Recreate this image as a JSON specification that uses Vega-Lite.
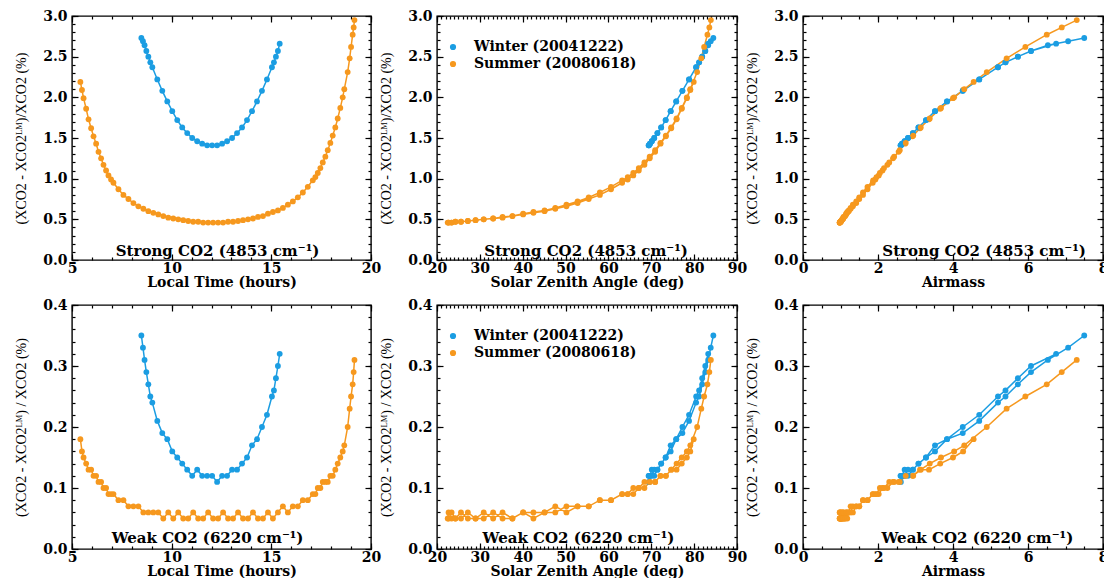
{
  "$schema": "https://vega.github.io/schema/vega-lite/v6.json",
  "background": "white",
  "padding": {"left": 13, "top": 8, "right": 0, "bottom": 0},
  "data": {"values": [
    {"season":"Winter","time":8.48,"sza":84.48,"airmass":7.5,"strong":2.73,"weak":0.35},
    {"season":"Winter","time":8.56,"sza":83.87,"airmass":7.07,"strong":2.69,"weak":0.33},
    {"season":"Winter","time":8.64,"sza":83.28,"airmass":6.53,"strong":2.64,"weak":0.31},
    {"season":"Winter","time":8.73,"sza":82.6,"airmass":6.08,"strong":2.57,"weak":0.29},
    {"season":"Winter","time":8.83,"sza":81.88,"airmass":5.73,"strong":2.5,"weak":0.27},
    {"season":"Winter","time":8.93,"sza":81.16,"airmass":5.4,"strong":2.43,"weak":0.25},
    {"season":"Winter","time":9.03,"sza":80.47,"airmass":5.2,"strong":2.37,"weak":0.24},
    {"season":"Winter","time":9.28,"sza":78.81,"airmass":4.7,"strong":2.22,"weak":0.21},
    {"season":"Winter","time":9.53,"sza":77.26,"airmass":4.26,"strong":2.08,"weak":0.19},
    {"season":"Winter","time":9.78,"sza":75.82,"airmass":3.84,"strong":1.95,"weak":0.18},
    {"season":"Winter","time":10.03,"sza":74.52,"airmass":3.52,"strong":1.83,"weak":0.16},
    {"season":"Winter","time":10.28,"sza":73.35,"airmass":3.28,"strong":1.72,"weak":0.15},
    {"season":"Winter","time":10.53,"sza":72.31,"airmass":3.08,"strong":1.63,"weak":0.14},
    {"season":"Winter","time":10.78,"sza":71.43,"airmass":2.93,"strong":1.56,"weak":0.13},
    {"season":"Winter","time":11.03,"sza":70.69,"airmass":2.8,"strong":1.5,"weak":0.12},
    {"season":"Winter","time":11.28,"sza":70.12,"airmass":2.71,"strong":1.46,"weak":0.13},
    {"season":"Winter","time":11.53,"sza":69.7,"airmass":2.64,"strong":1.43,"weak":0.12},
    {"season":"Winter","time":11.78,"sza":69.45,"airmass":2.61,"strong":1.41,"weak":0.12},
    {"season":"Winter","time":12.03,"sza":69.37,"airmass":2.6,"strong":1.41,"weak":0.12},
    {"season":"Winter","time":12.28,"sza":69.45,"airmass":2.61,"strong":1.41,"weak":0.11},
    {"season":"Winter","time":12.53,"sza":69.7,"airmass":2.64,"strong":1.43,"weak":0.12},
    {"season":"Winter","time":12.78,"sza":70.12,"airmass":2.71,"strong":1.46,"weak":0.12},
    {"season":"Winter","time":13.03,"sza":70.69,"airmass":2.8,"strong":1.5,"weak":0.13},
    {"season":"Winter","time":13.28,"sza":71.43,"airmass":2.93,"strong":1.56,"weak":0.13},
    {"season":"Winter","time":13.53,"sza":72.31,"airmass":3.08,"strong":1.63,"weak":0.14},
    {"season":"Winter","time":13.78,"sza":73.35,"airmass":3.28,"strong":1.72,"weak":0.15},
    {"season":"Winter","time":14.03,"sza":74.52,"airmass":3.52,"strong":1.83,"weak":0.17},
    {"season":"Winter","time":14.28,"sza":75.82,"airmass":3.84,"strong":1.95,"weak":0.18},
    {"season":"Winter","time":14.53,"sza":77.26,"airmass":4.26,"strong":2.08,"weak":0.2},
    {"season":"Winter","time":14.78,"sza":78.81,"airmass":4.7,"strong":2.22,"weak":0.22},
    {"season":"Winter","time":15.03,"sza":80.47,"airmass":5.2,"strong":2.37,"weak":0.25},
    {"season":"Winter","time":15.13,"sza":81.16,"airmass":5.4,"strong":2.43,"weak":0.26},
    {"season":"Winter","time":15.23,"sza":81.88,"airmass":5.73,"strong":2.5,"weak":0.28},
    {"season":"Winter","time":15.33,"sza":82.6,"airmass":6.08,"strong":2.57,"weak":0.3},
    {"season":"Winter","time":15.42,"sza":83.28,"airmass":6.75,"strong":2.66,"weak":0.32},
    {"season":"Summer","time":5.42,"sza":79.9,"airmass":4.55,"strong":2.19,"weak":0.18},
    {"season":"Summer","time":5.5,"sza":79.1,"airmass":4.27,"strong":2.09,"weak":0.16},
    {"season":"Summer","time":5.58,"sza":78.3,"airmass":4.0,"strong":1.99,"weak":0.15},
    {"season":"Summer","time":5.71,"sza":77.11,"airmass":3.66,"strong":1.86,"weak":0.14},
    {"season":"Summer","time":5.83,"sza":75.9,"airmass":3.36,"strong":1.73,"weak":0.13},
    {"season":"Summer","time":5.96,"sza":74.65,"airmass":3.12,"strong":1.62,"weak":0.13},
    {"season":"Summer","time":6.08,"sza":73.4,"airmass":2.92,"strong":1.52,"weak":0.12},
    {"season":"Summer","time":6.21,"sza":72.15,"airmass":2.72,"strong":1.43,"weak":0.12},
    {"season":"Summer","time":6.33,"sza":70.9,"airmass":2.55,"strong":1.33,"weak":0.11},
    {"season":"Summer","time":6.46,"sza":69.63,"airmass":2.4,"strong":1.25,"weak":0.11},
    {"season":"Summer","time":6.58,"sza":68.4,"airmass":2.25,"strong":1.17,"weak":0.1},
    {"season":"Summer","time":6.71,"sza":67.08,"airmass":2.12,"strong":1.1,"weak":0.1},
    {"season":"Summer","time":6.83,"sza":65.8,"airmass":2.02,"strong":1.04,"weak":0.09},
    {"season":"Summer","time":6.96,"sza":64.5,"airmass":1.93,"strong":0.99,"weak":0.09},
    {"season":"Summer","time":7.08,"sza":63.2,"airmass":1.86,"strong":0.95,"weak":0.09},
    {"season":"Summer","time":7.33,"sza":60.6,"airmass":1.72,"strong":0.87,"weak":0.08},
    {"season":"Summer","time":7.58,"sza":58.0,"airmass":1.6,"strong":0.8,"weak":0.08},
    {"season":"Summer","time":7.83,"sza":55.4,"airmass":1.5,"strong":0.75,"weak":0.07},
    {"season":"Summer","time":8.08,"sza":52.8,"airmass":1.42,"strong":0.7,"weak":0.07},
    {"season":"Summer","time":8.33,"sza":50.2,"airmass":1.33,"strong":0.66,"weak":0.07},
    {"season":"Summer","time":8.58,"sza":47.6,"airmass":1.27,"strong":0.63,"weak":0.06},
    {"season":"Summer","time":8.83,"sza":45.1,"airmass":1.22,"strong":0.6,"weak":0.06},
    {"season":"Summer","time":9.08,"sza":42.5,"airmass":1.18,"strong":0.58,"weak":0.06},
    {"season":"Summer","time":9.33,"sza":40.1,"airmass":1.15,"strong":0.56,"weak":0.06},
    {"season":"Summer","time":9.58,"sza":37.6,"airmass":1.12,"strong":0.54,"weak":0.05},
    {"season":"Summer","time":9.83,"sza":35.3,"airmass":1.08,"strong":0.52,"weak":0.06},
    {"season":"Summer","time":10.08,"sza":33.1,"airmass":1.07,"strong":0.51,"weak":0.05},
    {"season":"Summer","time":10.33,"sza":30.9,"airmass":1.05,"strong":0.5,"weak":0.06},
    {"season":"Summer","time":10.58,"sza":29.0,"airmass":1.03,"strong":0.49,"weak":0.05},
    {"season":"Summer","time":10.83,"sza":27.2,"airmass":1.02,"strong":0.48,"weak":0.05},
    {"season":"Summer","time":11.08,"sza":25.6,"airmass":1.0,"strong":0.47,"weak":0.06},
    {"season":"Summer","time":11.33,"sza":24.3,"airmass":1.0,"strong":0.47,"weak":0.05},
    {"season":"Summer","time":11.58,"sza":23.4,"airmass":0.98,"strong":0.46,"weak":0.05},
    {"season":"Summer","time":11.83,"sza":22.7,"airmass":0.98,"strong":0.46,"weak":0.06},
    {"season":"Summer","time":12.08,"sza":22.5,"airmass":0.98,"strong":0.46,"weak":0.05},
    {"season":"Summer","time":12.33,"sza":22.7,"airmass":0.98,"strong":0.46,"weak":0.05},
    {"season":"Summer","time":12.58,"sza":23.4,"airmass":0.98,"strong":0.46,"weak":0.06},
    {"season":"Summer","time":12.83,"sza":24.3,"airmass":1.0,"strong":0.47,"weak":0.05},
    {"season":"Summer","time":13.08,"sza":25.6,"airmass":1.0,"strong":0.47,"weak":0.05},
    {"season":"Summer","time":13.33,"sza":27.2,"airmass":1.02,"strong":0.48,"weak":0.06},
    {"season":"Summer","time":13.58,"sza":29.0,"airmass":1.03,"strong":0.49,"weak":0.05},
    {"season":"Summer","time":13.83,"sza":30.9,"airmass":1.05,"strong":0.5,"weak":0.05},
    {"season":"Summer","time":14.08,"sza":33.1,"airmass":1.07,"strong":0.51,"weak":0.06},
    {"season":"Summer","time":14.33,"sza":35.3,"airmass":1.08,"strong":0.53,"weak":0.05},
    {"season":"Summer","time":14.58,"sza":37.6,"airmass":1.12,"strong":0.54,"weak":0.05},
    {"season":"Summer","time":14.83,"sza":40.1,"airmass":1.15,"strong":0.57,"weak":0.06},
    {"season":"Summer","time":15.08,"sza":42.5,"airmass":1.18,"strong":0.59,"weak":0.05},
    {"season":"Summer","time":15.33,"sza":45.1,"airmass":1.22,"strong":0.61,"weak":0.06},
    {"season":"Summer","time":15.58,"sza":47.6,"airmass":1.27,"strong":0.64,"weak":0.07},
    {"season":"Summer","time":15.83,"sza":50.2,"airmass":1.33,"strong":0.68,"weak":0.06},
    {"season":"Summer","time":16.08,"sza":52.8,"airmass":1.42,"strong":0.72,"weak":0.07},
    {"season":"Summer","time":16.33,"sza":55.4,"airmass":1.5,"strong":0.77,"weak":0.07},
    {"season":"Summer","time":16.58,"sza":58.0,"airmass":1.6,"strong":0.83,"weak":0.08},
    {"season":"Summer","time":16.83,"sza":60.6,"airmass":1.72,"strong":0.9,"weak":0.08},
    {"season":"Summer","time":17.08,"sza":63.2,"airmass":1.87,"strong":0.98,"weak":0.09},
    {"season":"Summer","time":17.21,"sza":64.5,"airmass":1.96,"strong":1.02,"weak":0.09},
    {"season":"Summer","time":17.33,"sza":65.8,"airmass":2.05,"strong":1.07,"weak":0.1},
    {"season":"Summer","time":17.46,"sza":67.08,"airmass":2.16,"strong":1.13,"weak":0.1},
    {"season":"Summer","time":17.58,"sza":68.4,"airmass":2.3,"strong":1.2,"weak":0.11},
    {"season":"Summer","time":17.71,"sza":69.63,"airmass":2.43,"strong":1.27,"weak":0.11},
    {"season":"Summer","time":17.83,"sza":70.9,"airmass":2.58,"strong":1.35,"weak":0.11},
    {"season":"Summer","time":17.96,"sza":72.15,"airmass":2.74,"strong":1.44,"weak":0.12},
    {"season":"Summer","time":18.08,"sza":73.4,"airmass":2.94,"strong":1.53,"weak":0.12},
    {"season":"Summer","time":18.21,"sza":74.65,"airmass":3.14,"strong":1.63,"weak":0.13},
    {"season":"Summer","time":18.33,"sza":75.9,"airmass":3.38,"strong":1.74,"weak":0.14},
    {"season":"Summer","time":18.46,"sza":77.11,"airmass":3.68,"strong":1.87,"weak":0.15},
    {"season":"Summer","time":18.58,"sza":78.3,"airmass":4.03,"strong":2.0,"weak":0.16},
    {"season":"Summer","time":18.66,"sza":79.1,"airmass":4.3,"strong":2.1,"weak":0.17},
    {"season":"Summer","time":18.83,"sza":80.7,"airmass":4.9,"strong":2.31,"weak":0.2},
    {"season":"Summer","time":18.93,"sza":81.67,"airmass":5.43,"strong":2.48,"weak":0.23},
    {"season":"Summer","time":19.0,"sza":82.33,"airmass":5.93,"strong":2.62,"weak":0.25},
    {"season":"Summer","time":19.08,"sza":83.1,"airmass":6.5,"strong":2.77,"weak":0.27},
    {"season":"Summer","time":19.13,"sza":83.55,"airmass":6.9,"strong":2.86,"weak":0.29},
    {"season":"Summer","time":19.17,"sza":83.9,"airmass":7.3,"strong":2.95,"weak":0.31}
  ]},
  "columns": 3,
  "spacing": {"row": 45, "column": 66},
  "bounds": "flush",
  "resolve": {"scale": {"color": "independent"}},
  "concat": [
    {
      "width": 299, "height": 244,
      "layer": [
        {"mark": {"type": "line", "point": {"filled": true, "size": 34}},
         "encoding": {
           "x": {"field": "time", "type": "quantitative", "scale": {"domain": [5, 20], "nice": false, "zero": false}, "axis": {"orient": "bottom", "title": "Local Time (hours)", "tickCount": 3, "format": "d"}},
           "y": {"field": "strong", "type": "quantitative", "scale": {"domain": [0, 3], "nice": false}, "axis": {"orient": "left", "title": "(XCO2 - XCO2ᴸᴹ)/XCO2 (%)", "tickCount": 6, "format": ".1f"}},
           "color": {"field": "season", "type": "nominal", "scale": {"domain": ["Winter", "Summer"], "range": ["#1b9de2", "#f6981e"]}, "legend": null},
           "order": {"field": "time", "type": "quantitative"}}},
        {"mark": {"type": "point", "opacity": 0},
         "encoding": {
           "x": {"field": "time", "type": "quantitative", "axis": {"orient": "top", "labels": false, "title": null, "tickCount": 3}},
           "y": {"field": "strong", "type": "quantitative", "axis": {"orient": "right", "labels": false, "title": null, "tickCount": 6}}}},
        {"mark": {"type": "point", "opacity": 0},
         "encoding": {
           "x": {"field": "time", "type": "quantitative", "axis": {"orient": "bottom", "labels": false, "title": null, "tickCount": 15, "tickSize": 3, "offset": -3}},
           "y": {"field": "strong", "type": "quantitative", "axis": {"orient": "left", "labels": false, "title": null, "tickCount": 30, "tickSize": 3, "offset": -3}}}},
        {"mark": {"type": "point", "opacity": 0},
         "encoding": {
           "x": {"field": "time", "type": "quantitative", "axis": {"orient": "top", "labels": false, "title": null, "tickCount": 15, "tickSize": 3, "offset": -3}},
           "y": {"field": "strong", "type": "quantitative", "axis": {"orient": "right", "labels": false, "title": null, "tickCount": 30, "tickSize": 3, "offset": -3}}}},
        {"data": {"values": [{}]},
         "mark": {"type": "text", "text": "Strong CO2 (4853 cm⁻¹)", "baseline": "alphabetic"},
         "encoding": {
           "x": {"datum": 12.3, "type": "quantitative", "axis": null},
           "y": {"datum": 0.05, "type": "quantitative", "axis": null}}}
      ],
      "resolve": {"axis": {"x": "independent", "y": "independent"}}
    },
    {
      "width": 300, "height": 244,
      "layer": [
        {"mark": {"type": "line", "point": {"filled": true, "size": 34}},
         "encoding": {
           "x": {"field": "sza", "type": "quantitative", "scale": {"domain": [20, 90], "nice": false, "zero": false}, "axis": {"orient": "bottom", "title": "Solar Zenith Angle (deg)", "tickCount": 7, "format": "d"}},
           "y": {"field": "strong", "type": "quantitative", "scale": {"domain": [0, 3], "nice": false}, "axis": {"orient": "left", "title": "(XCO2 - XCO2ᴸᴹ)/XCO2 (%)", "tickCount": 6, "format": ".1f"}},
           "color": {"field": "season", "type": "nominal", "scale": {"domain": ["Winter", "Summer"], "range": ["#1b9de2", "#f6981e"]},
             "legend": {"orient": "top-left", "offset": 24, "padding": 0, "title": null, "symbolType": "circle", "symbolSize": 22, "symbolOffset": -15, "rowPadding": 3, "labelOffset": 14, "labelLimit": 400,
               "labelFont": "DejaVu Serif", "labelFontSize": 14, "labelFontWeight": "bold",
               "labelExpr": "datum.value === 'Winter' ? 'Winter (20041222)' : 'Summer (20080618)'",
               "encode": {
                 "labels": {"update": {"fill": {"signal": "datum.value === 'Winter' ? '#1b9de2' : '#f6981e'"}}},
                 "symbols": {"update": {"fill": {"signal": "datum.value === 'Winter' ? '#1b9de2' : '#f6981e'"}, "stroke": {"signal": "datum.value === 'Winter' ? '#1b9de2' : '#f6981e'"}}}}}},
           "order": {"field": "time", "type": "quantitative"}}},
        {"mark": {"type": "point", "opacity": 0},
         "encoding": {
           "x": {"field": "sza", "type": "quantitative", "axis": {"orient": "top", "labels": false, "title": null, "tickCount": 7}},
           "y": {"field": "strong", "type": "quantitative", "axis": {"orient": "right", "labels": false, "title": null, "tickCount": 6}}}},
        {"mark": {"type": "point", "opacity": 0},
         "encoding": {
           "x": {"field": "sza", "type": "quantitative", "axis": {"orient": "bottom", "labels": false, "title": null, "tickCount": 70, "tickSize": 3, "offset": -3}},
           "y": {"field": "strong", "type": "quantitative", "axis": {"orient": "left", "labels": false, "title": null, "tickCount": 30, "tickSize": 3, "offset": -3}}}},
        {"mark": {"type": "point", "opacity": 0},
         "encoding": {
           "x": {"field": "sza", "type": "quantitative", "axis": {"orient": "top", "labels": false, "title": null, "tickCount": 70, "tickSize": 3, "offset": -3}},
           "y": {"field": "strong", "type": "quantitative", "axis": {"orient": "right", "labels": false, "title": null, "tickCount": 30, "tickSize": 3, "offset": -3}}}},
        {"data": {"values": [{}]},
         "mark": {"type": "text", "text": "Strong CO2 (4853 cm⁻¹)", "baseline": "alphabetic"},
         "encoding": {
           "x": {"datum": 54.8, "type": "quantitative", "axis": null},
           "y": {"datum": 0.05, "type": "quantitative", "axis": null}}}
      ],
      "resolve": {"axis": {"x": "independent", "y": "independent"}}
    },
    {
      "width": 300, "height": 244,
      "layer": [
        {"mark": {"type": "line", "point": {"filled": true, "size": 34}},
         "encoding": {
           "x": {"field": "airmass", "type": "quantitative", "scale": {"domain": [0, 8], "nice": false}, "axis": {"orient": "bottom", "title": "Airmass", "tickCount": 4, "format": "d"}},
           "y": {"field": "strong", "type": "quantitative", "scale": {"domain": [0, 3], "nice": false}, "axis": {"orient": "left", "title": "(XCO2 - XCO2ᴸᴹ)/XCO2 (%)", "tickCount": 6, "format": ".1f"}},
           "color": {"field": "season", "type": "nominal", "scale": {"domain": ["Winter", "Summer"], "range": ["#1b9de2", "#f6981e"]}, "legend": null},
           "order": {"field": "time", "type": "quantitative"}}},
        {"mark": {"type": "point", "opacity": 0},
         "encoding": {
           "x": {"field": "airmass", "type": "quantitative", "axis": {"orient": "top", "labels": false, "title": null, "tickCount": 4}},
           "y": {"field": "strong", "type": "quantitative", "axis": {"orient": "right", "labels": false, "title": null, "tickCount": 6}}}},
        {"mark": {"type": "point", "opacity": 0},
         "encoding": {
           "x": {"field": "airmass", "type": "quantitative", "axis": {"orient": "bottom", "labels": false, "title": null, "tickCount": 16, "tickSize": 3, "offset": -3}},
           "y": {"field": "strong", "type": "quantitative", "axis": {"orient": "left", "labels": false, "title": null, "tickCount": 30, "tickSize": 3, "offset": -3}}}},
        {"mark": {"type": "point", "opacity": 0},
         "encoding": {
           "x": {"field": "airmass", "type": "quantitative", "axis": {"orient": "top", "labels": false, "title": null, "tickCount": 16, "tickSize": 3, "offset": -3}},
           "y": {"field": "strong", "type": "quantitative", "axis": {"orient": "right", "labels": false, "title": null, "tickCount": 30, "tickSize": 3, "offset": -3}}}},
        {"data": {"values": [{}]},
         "mark": {"type": "text", "text": "Strong CO2 (4853 cm⁻¹)", "baseline": "alphabetic"},
         "encoding": {
           "x": {"datum": 4.83, "type": "quantitative", "axis": null},
           "y": {"datum": 0.05, "type": "quantitative", "axis": null}}}
      ],
      "resolve": {"axis": {"x": "independent", "y": "independent"}}
    },
    {
      "width": 299, "height": 244,
      "layer": [
        {"mark": {"type": "line", "point": {"filled": true, "size": 34}},
         "encoding": {
           "x": {"field": "time", "type": "quantitative", "scale": {"domain": [5, 20], "nice": false, "zero": false}, "axis": {"orient": "bottom", "title": "Local Time (hours)", "tickCount": 3, "format": "d"}},
           "y": {"field": "weak", "type": "quantitative", "scale": {"domain": [0, 0.4], "nice": false}, "axis": {"orient": "left", "title": "(XCO2 - XCO2ᴸᴹ) / XCO2 (%)", "tickCount": 4, "format": ".1f"}},
           "color": {"field": "season", "type": "nominal", "scale": {"domain": ["Winter", "Summer"], "range": ["#1b9de2", "#f6981e"]}, "legend": null},
           "order": {"field": "time", "type": "quantitative"}}},
        {"mark": {"type": "point", "opacity": 0},
         "encoding": {
           "x": {"field": "time", "type": "quantitative", "axis": {"orient": "top", "labels": false, "title": null, "tickCount": 3}},
           "y": {"field": "weak", "type": "quantitative", "axis": {"orient": "right", "labels": false, "title": null, "tickCount": 4}}}},
        {"mark": {"type": "point", "opacity": 0},
         "encoding": {
           "x": {"field": "time", "type": "quantitative", "axis": {"orient": "bottom", "labels": false, "title": null, "tickCount": 15, "tickSize": 3, "offset": -3}},
           "y": {"field": "weak", "type": "quantitative", "axis": {"orient": "left", "labels": false, "title": null, "tickCount": 20, "tickSize": 3, "offset": -3}}}},
        {"mark": {"type": "point", "opacity": 0},
         "encoding": {
           "x": {"field": "time", "type": "quantitative", "axis": {"orient": "top", "labels": false, "title": null, "tickCount": 15, "tickSize": 3, "offset": -3}},
           "y": {"field": "weak", "type": "quantitative", "axis": {"orient": "right", "labels": false, "title": null, "tickCount": 20, "tickSize": 3, "offset": -3}}}},
        {"data": {"values": [{}]},
         "mark": {"type": "text", "text": "Weak CO2 (6220 cm⁻¹)", "baseline": "alphabetic"},
         "encoding": {
           "x": {"datum": 11.8, "type": "quantitative", "axis": null},
           "y": {"datum": 0.01, "type": "quantitative", "axis": null}}}
      ],
      "resolve": {"axis": {"x": "independent", "y": "independent"}}
    },
    {
      "width": 300, "height": 244,
      "layer": [
        {"mark": {"type": "line", "point": {"filled": true, "size": 34}},
         "encoding": {
           "x": {"field": "sza", "type": "quantitative", "scale": {"domain": [20, 90], "nice": false, "zero": false}, "axis": {"orient": "bottom", "title": "Solar Zenith Angle (deg)", "tickCount": 7, "format": "d"}},
           "y": {"field": "weak", "type": "quantitative", "scale": {"domain": [0, 0.4], "nice": false}, "axis": {"orient": "left", "title": "(XCO2 - XCO2ᴸᴹ) / XCO2 (%)", "tickCount": 4, "format": ".1f"}},
           "color": {"field": "season", "type": "nominal", "scale": {"domain": ["Winter", "Summer"], "range": ["#1b9de2", "#f6981e"]},
             "legend": {"orient": "top-left", "offset": 24, "padding": 0, "title": null, "symbolType": "circle", "symbolSize": 22, "symbolOffset": -15, "rowPadding": 3, "labelOffset": 14, "labelLimit": 400,
               "labelFont": "DejaVu Serif", "labelFontSize": 14, "labelFontWeight": "bold",
               "labelExpr": "datum.value === 'Winter' ? 'Winter (20041222)' : 'Summer (20080618)'",
               "encode": {
                 "labels": {"update": {"fill": {"signal": "datum.value === 'Winter' ? '#1b9de2' : '#f6981e'"}}},
                 "symbols": {"update": {"fill": {"signal": "datum.value === 'Winter' ? '#1b9de2' : '#f6981e'"}, "stroke": {"signal": "datum.value === 'Winter' ? '#1b9de2' : '#f6981e'"}}}}}},
           "order": {"field": "time", "type": "quantitative"}}},
        {"mark": {"type": "point", "opacity": 0},
         "encoding": {
           "x": {"field": "sza", "type": "quantitative", "axis": {"orient": "top", "labels": false, "title": null, "tickCount": 7}},
           "y": {"field": "weak", "type": "quantitative", "axis": {"orient": "right", "labels": false, "title": null, "tickCount": 4}}}},
        {"mark": {"type": "point", "opacity": 0},
         "encoding": {
           "x": {"field": "sza", "type": "quantitative", "axis": {"orient": "bottom", "labels": false, "title": null, "tickCount": 70, "tickSize": 3, "offset": -3}},
           "y": {"field": "weak", "type": "quantitative", "axis": {"orient": "left", "labels": false, "title": null, "tickCount": 20, "tickSize": 3, "offset": -3}}}},
        {"mark": {"type": "point", "opacity": 0},
         "encoding": {
           "x": {"field": "sza", "type": "quantitative", "axis": {"orient": "top", "labels": false, "title": null, "tickCount": 70, "tickSize": 3, "offset": -3}},
           "y": {"field": "weak", "type": "quantitative", "axis": {"orient": "right", "labels": false, "title": null, "tickCount": 20, "tickSize": 3, "offset": -3}}}},
        {"data": {"values": [{}]},
         "mark": {"type": "text", "text": "Weak CO2 (6220 cm⁻¹)", "baseline": "alphabetic"},
         "encoding": {
           "x": {"datum": 53.0, "type": "quantitative", "axis": null},
           "y": {"datum": 0.01, "type": "quantitative", "axis": null}}}
      ],
      "resolve": {"axis": {"x": "independent", "y": "independent"}}
    },
    {
      "width": 300, "height": 244,
      "layer": [
        {"mark": {"type": "line", "point": {"filled": true, "size": 34}},
         "encoding": {
           "x": {"field": "airmass", "type": "quantitative", "scale": {"domain": [0, 8], "nice": false}, "axis": {"orient": "bottom", "title": "Airmass", "tickCount": 4, "format": "d"}},
           "y": {"field": "weak", "type": "quantitative", "scale": {"domain": [0, 0.4], "nice": false}, "axis": {"orient": "left", "title": "(XCO2 - XCO2ᴸᴹ) / XCO2 (%)", "tickCount": 4, "format": ".1f"}},
           "color": {"field": "season", "type": "nominal", "scale": {"domain": ["Winter", "Summer"], "range": ["#1b9de2", "#f6981e"]}, "legend": null},
           "order": {"field": "time", "type": "quantitative"}}},
        {"mark": {"type": "point", "opacity": 0},
         "encoding": {
           "x": {"field": "airmass", "type": "quantitative", "axis": {"orient": "top", "labels": false, "title": null, "tickCount": 4}},
           "y": {"field": "weak", "type": "quantitative", "axis": {"orient": "right", "labels": false, "title": null, "tickCount": 4}}}},
        {"mark": {"type": "point", "opacity": 0},
         "encoding": {
           "x": {"field": "airmass", "type": "quantitative", "axis": {"orient": "bottom", "labels": false, "title": null, "tickCount": 16, "tickSize": 3, "offset": -3}},
           "y": {"field": "weak", "type": "quantitative", "axis": {"orient": "left", "labels": false, "title": null, "tickCount": 20, "tickSize": 3, "offset": -3}}}},
        {"mark": {"type": "point", "opacity": 0},
         "encoding": {
           "x": {"field": "airmass", "type": "quantitative", "axis": {"orient": "top", "labels": false, "title": null, "tickCount": 16, "tickSize": 3, "offset": -3}},
           "y": {"field": "weak", "type": "quantitative", "axis": {"orient": "right", "labels": false, "title": null, "tickCount": 20, "tickSize": 3, "offset": -3}}}},
        {"data": {"values": [{}]},
         "mark": {"type": "text", "text": "Weak CO2 (6220 cm⁻¹)", "baseline": "alphabetic"},
         "encoding": {
           "x": {"datum": 4.65, "type": "quantitative", "axis": null},
           "y": {"datum": 0.01, "type": "quantitative", "axis": null}}}
      ],
      "resolve": {"axis": {"x": "independent", "y": "independent"}}
    }
  ],
  "config": {
    "view": {"stroke": "#000000", "strokeWidth": 1.4},
    "axis": {"domain": false, "grid": false, "ticks": true, "tickColor": "#000000", "tickWidth": 1.2, "tickSize": 6, "offset": -6,
             "labelFont": "DejaVu Serif", "labelFontSize": 14, "labelFontWeight": "bold", "labelColor": "#000000",
             "labelFlush": false, "minExtent": 0, "titleColor": "#000000"},
    "axisX": {"labelPadding": 1, "titleFont": "DejaVu Serif", "titleFontSize": 14, "titleFontWeight": "bold", "titlePadding": 0},
    "axisY": {"labelPadding": 5, "titleFont": "Liberation Sans Narrow", "titleFontSize": 14, "titleFontWeight": "normal", "titlePadding": 14},
    "line": {"strokeWidth": 1.5},
    "text": {"font": "DejaVu Serif", "fontSize": 15, "fontWeight": "bold", "color": "#000000"}
  }
}
